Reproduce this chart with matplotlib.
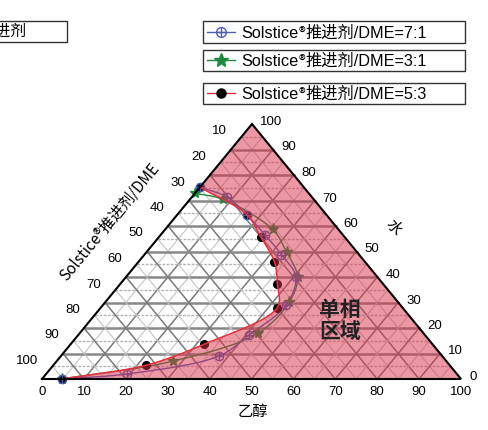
import numpy as np
import matplotlib
matplotlib.use("Agg")
import matplotlib.pyplot as plt
from matplotlib.patches import Rectangle

plt.rcParams['font.family'] = ['Liberation Sans', 'Noto Sans CJK SC']
NOTO = ['Noto Sans CJK SC', 'DejaVu Sans']

# ternary data: (ethanol %, water %), remainder = Solstice/DME
ratio_labels = ['7:1', '3:1', '5:3']
eth_71 = [4.7, 19.4, 37.7, 40.8, 43.7, 40.6, 32.7, 24.9, 16.5, 8.3, 0.0]
wat_71 = [0.0, 2.0, 9.0, 17.3, 28.9, 39.9, 48.8, 56.5, 64.5, 71.4, 75.2]
eth_31 = [4.7, 27.7, 42.5, 43.9, 41.0, 33.5, 25.6, 7.8, 0.0]
wat_31 = [0.0, 7.0, 17.9, 30.1, 39.9, 49.7, 58.7, 70.5, 72.8]
eth_53 = [4.7, 22.1, 31.9, 42.1, 37.6, 32.4, 24.2, 16.5, 0.0]
wat_53 = [0.0, 5.4, 13.7, 28.0, 37.1, 46.0, 55.8, 64.5, 75.2]
tick_vals = list(range(0, 101, 10))

# triangle corners in figure pixels: Solstice/DME, ethanol, water
B = np.array([42.0, 379.0])
R = np.array([461.0, 379.0])
T = np.array([252.0, 124.0])

BLUE = '#4c5fb4'
GREEN = '#1b8a3c'
RED = '#e8303f'
PINK = '#d9304a'


def tern(e, w):
    e = np.asarray(e, float) / 100
    w = np.asarray(w, float) / 100
    s = 1 - e - w
    x = s * B[0] + e * R[0] + w * T[0]
    y = s * B[1] + e * R[1] + w * T[1]
    return x, y


def smooth(x, y, n=25):
    # centripetal Catmull-Rom through the measured points
    p = np.column_stack([x, y])
    p = np.vstack([2 * p[0] - p[1], p, 2 * p[-1] - p[-2]])
    out = []
    for i in range(1, len(p) - 2):
        p0, p1, p2, p3 = p[i - 1:i + 3]
        t0 = 0.0
        t1 = t0 + np.linalg.norm(p1 - p0) ** 0.5
        t2 = t1 + np.linalg.norm(p2 - p1) ** 0.5
        t3 = t2 + np.linalg.norm(p3 - p2) ** 0.5
        t = np.linspace(t1, t2, n)[:, None]
        a1 = (t1 - t) / (t1 - t0) * p0 + (t - t0) / (t1 - t0) * p1
        a2 = (t2 - t) / (t2 - t1) * p1 + (t - t1) / (t2 - t1) * p2
        a3 = (t3 - t) / (t3 - t2) * p2 + (t - t2) / (t3 - t2) * p3
        b1 = (t2 - t) / (t2 - t0) * a1 + (t - t0) / (t2 - t0) * a2
        b2 = (t3 - t) / (t3 - t1) * a2 + (t - t1) / (t3 - t1) * a3
        c = (t2 - t) / (t2 - t1) * b1 + (t - t1) / (t2 - t1) * b2
        out.append(c if i == len(p) - 3 else c[:-1])
    c = np.vstack(out)
    return c[:, 0], c[:, 1]


fig = plt.figure(figsize=(4.88, 4.30), dpi=100)
ax = fig.add_axes([0, 0, 1, 1])
ax.set_xlim(0, 488)
ax.set_ylim(430, 0)
ax.axis('off')

# grid
for k in range(5, 100, 5):
    major = k % 10 == 0
    dcol = '#7a7a7a' if major else '#c4c4c4'
    # constant water (horizontal)
    x, y = tern([0, 100 - k], [k, k])
    if major:
        ax.plot(x, y, color='#888888', lw=1.8, zorder=1)
    else:
        ax.plot(x, y, color='#b5b5b5', lw=1.0, ls=(0, (2, 1)), zorder=1)
    # constant Solstice/DME
    x, y = tern([100 - k, 0], [0, 100 - k])
    ax.plot(x, y, color=dcol, lw=1.1 if major else 0.8, zorder=1)
    # constant ethanol
    x, y = tern([k, k], [0, 100 - k])
    ax.plot(x, y, color=dcol, lw=1.1 if major else 0.8, zorder=1)

# series
x71, y71 = tern(eth_71, wat_71)
x31, y31 = tern(eth_31, wat_31)
x53, y53 = tern(eth_53, wat_53)

ax.plot(*smooth(x31, y31), color=GREEN, lw=1.0, zorder=2)
ax.plot(x31, y31, ls='none', marker='*', ms=8, color=GREEN, zorder=3)
ax.plot(x53, y53, ls='none', marker='o', ms=5.5, color='black', zorder=3)
ax.plot(*smooth(x71, y71), color=BLUE, lw=1.0, zorder=2)
ax.plot(x71, y71, ls='none', marker='o', ms=6, mfc='none', mec=BLUE, mew=1.0, zorder=3)
ax.plot(x71, y71, ls='none', marker='+', ms=6, color=BLUE, mew=1.0, zorder=3)

# single-phase region
sx, sy = smooth(x53, y53)
ax.fill(np.r_[sx, T[0], R[0]], np.r_[sy, T[1], R[1]], color=PINK, alpha=0.5, lw=0, zorder=4)
ax.plot(sx, sy, color=RED, lw=1.1, zorder=5)

# triangle outline
ax.plot([B[0], R[0], T[0], B[0]], [B[1], R[1], T[1], B[1]], color='black', lw=1.5, zorder=6,
        solid_joinstyle='miter')

# tick labels
for v in tick_vals:
    x, y = tern(v, 0)
    ax.text(x, y + 13, str(v), ha='center', va='center', fontsize=9.5)
    x, y = tern(100 - v, v)
    ax.text(x + 8, y - 2, str(v), ha='left', va='center', fontsize=9.5)
    x, y = tern(0, 100 - v)
    if v > 0:
        ax.text(x - 4, y - 18, str(v), ha='right', va='center', fontsize=9.5)

ax.text(253, 412, '乙醇', ha='center', va='center', fontsize=11)
ax.text(393, 228, '水', ha='center', va='center', fontsize=11, rotation=-50.6)
ax.text(110, 222, 'Solstice®推进剂/DME', ha='center', va='center', fontsize=11,
        rotation=50.5, rotation_mode='anchor', family=NOTO)
ax.text(340, 321, '单相\n区域', ha='center', va='center', fontsize=15, fontweight='bold',
        linespacing=1.15, zorder=7, color='#222222')

# legend boxes
ax.add_patch(Rectangle((-50, 21), 117, 21, fill=False, ec='#333333', lw=1.0, zorder=7))
ax.text(27, 31.5, 'Solstice®推进剂', ha='right', va='center', fontsize=11.5, zorder=7, family=NOTO)

leg_y = [31.5, 60, 93]
leg_line = [BLUE, GREEN, RED]
leg_mark = [dict(marker='o', mfc='none', mec=BLUE, ms=7, mew=1.0),
            dict(marker='*', color=GREEN, ms=10),
            dict(marker='o', color='black', ms=6.5)]
for yy, lab, lc, mk in zip(leg_y, ratio_labels, leg_line, leg_mark):
    ax.add_patch(Rectangle((203, yy - 10.5), 262, 21.5, fill=False, ec='#333333', lw=1.0, zorder=7))
    ax.plot([207, 235], [yy, yy], lw=1.0, color=lc, zorder=7)
    ax.plot([221], [yy], ls='none', zorder=8, **mk)
    if lab == '7:1':
        ax.plot([221], [yy], marker='+', ms=7, color=BLUE, mew=1.0, zorder=8)
    t1 = ax.text(241, yy + 6, 'Solstice', ha='left', va='baseline', fontsize=11.7, zorder=7)
    t2 = ax.annotate('®', xy=(1, 0), xycoords=t1, xytext=(0.3, 0), textcoords='offset points',
                     ha='left', va='bottom', fontsize=10, zorder=7, family=NOTO)
    ax.annotate('推进剂/DME=' + lab, xy=(1, 0), xycoords=(t2, t1), xytext=(0.3, 0),
                textcoords='offset points', ha='left', va='bottom', fontsize=11.7, zorder=7)

fig.savefig('out.png', dpi=100)
